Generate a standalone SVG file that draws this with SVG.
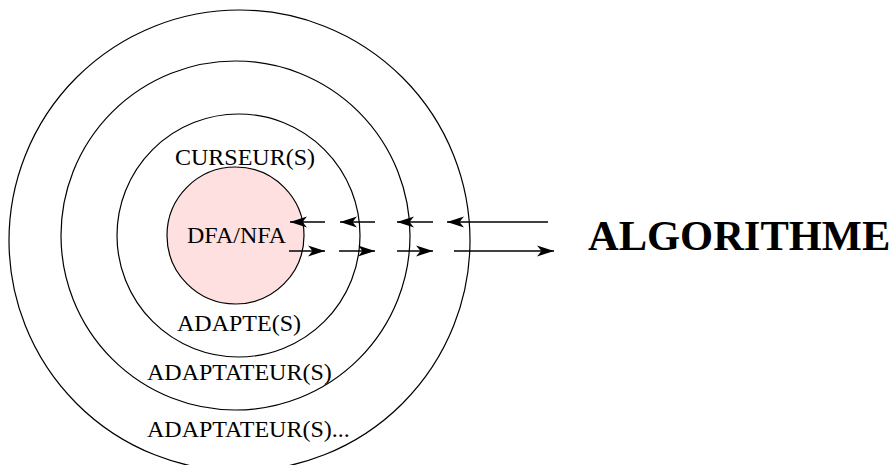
<svg xmlns="http://www.w3.org/2000/svg" width="895" height="465" viewBox="0 0 895 465">
<style>
.ring{fill:none;stroke:#000;stroke-width:1.2}
.core{fill:#ffe0e0;stroke:#000;stroke-width:1.2}
.lbl{font-family:"Liberation Serif","Times New Roman",serif;font-size:24px;fill:#000}
.big{font-family:"Liberation Serif","Times New Roman",serif;font-size:42.5px;font-weight:bold;fill:#000}
.arr{stroke:#000;stroke-width:1.3;fill:none;marker-end:url(#ah)}
</style>
<defs>
<marker id="ah" markerUnits="userSpaceOnUse" viewBox="-19 -7 20 14" refX="0" refY="0" markerWidth="20" markerHeight="14" orient="auto">
<path d="M0,0 L-17,-5.5 L-12.5,0 L-17,5.5 Z" fill="#000"/>
</marker>
</defs>
<rect width="895" height="465" fill="#fff"/>
<g id="ring-outer">
<circle class="ring" cx="239.5" cy="240.5" r="230.5"/>
<text class="lbl" x="147" y="437">ADAPTATEUR(S)...</text>
</g>
<g id="ring-adaptateur">
<circle class="ring" cx="235.5" cy="235.5" r="174.5"/>
<text class="lbl" x="147" y="380">ADAPTATEUR(S)</text>
</g>
<g id="ring-adapte">
<circle class="ring" cx="238.5" cy="235.5" r="121.5"/>
<text class="lbl" x="175" y="165">CURSEUR(S)</text>
<text class="lbl" x="177" y="331">ADAPTE(S)</text>
</g>
<g id="core">
<circle class="core" cx="235.5" cy="235.5" r="68.5"/>
<text class="lbl" x="187" y="243">DFA/NFA</text>
</g>
<g id="algorithme">
<text class="big" x="588" y="250">ALGORITHME</text>
</g>
<g id="connectors">
<line class="arr" x1="325" y1="222" x2="290" y2="222"/>
<line class="arr" x1="375" y1="222" x2="340" y2="222"/>
<line class="arr" x1="433" y1="222" x2="397" y2="222"/>
<line class="arr" x1="548" y1="222" x2="447" y2="222"/>
<line class="arr" x1="289" y1="251" x2="325" y2="251"/>
<line class="arr" x1="339" y1="251" x2="375" y2="251"/>
<line class="arr" x1="397" y1="251" x2="433" y2="251"/>
<line class="arr" x1="454" y1="251" x2="554" y2="251"/>
</g>
</svg>
